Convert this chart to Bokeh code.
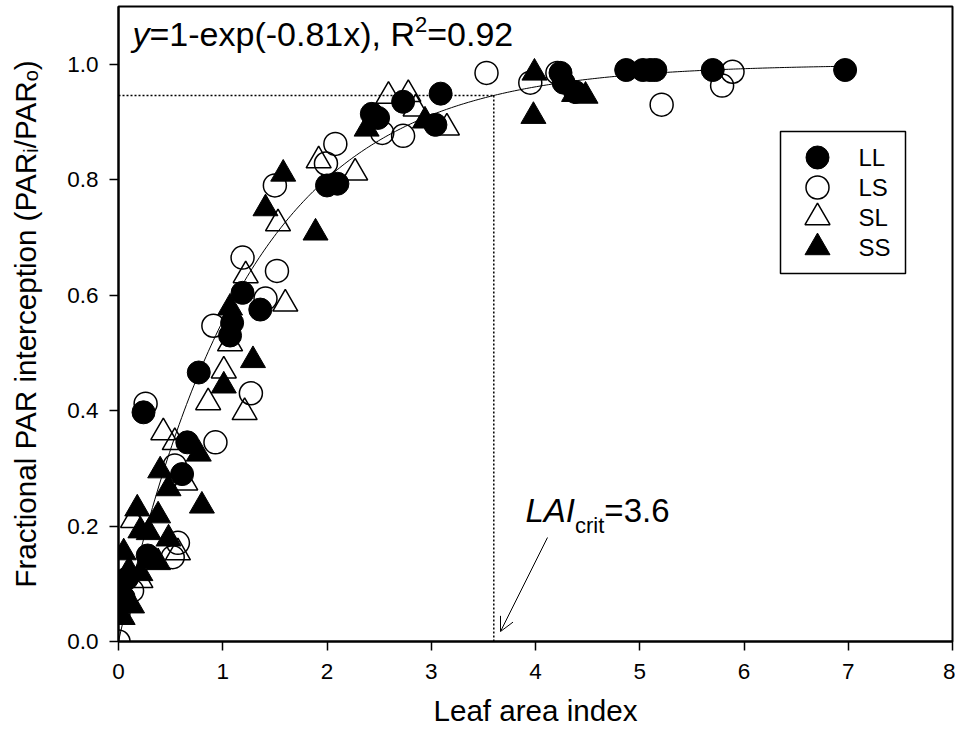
import math
import numpy as np
from bokeh.plotting import figure
from bokeh.models import Range1d, FixedTicker, Label, Arrow, OpenHead, NumeralTickFormatter
from bokeh.embed import file_html
from bokeh.resources import INLINE

# ---------------- data ----------------
LL_X = [6.97, 5.70, 4.87, 5.03, 5.10, 5.15, 4.24, 4.27, 4.38, 3.09, 2.73, 2.43, 2.49, 3.04,
        2.00, 2.10, 1.19, 1.36, 1.09, 1.07, 0.77, 0.24, 0.66, 0.61, 0.28, 0.08, 0.05]
LL_Y = [0.990, 0.990, 0.990, 0.990, 0.990, 0.990, 0.985, 0.968, 0.952, 0.949, 0.935, 0.914, 0.907, 0.895,
        0.790, 0.793, 0.604, 0.575, 0.552, 0.530, 0.466, 0.397, 0.345, 0.290, 0.149, 0.109, 0.076]

LS_X = [3.53, 3.95, 4.21, 5.89, 5.79, 5.21, 2.53, 2.73, 2.08, 1.99, 1.50, 1.19, 1.52, 1.41,
        0.91, 1.27, 0.26, 0.93, 0.54, 0.57, 0.52, 0.13, 0.00, 0.00]
LS_Y = [0.985, 0.968, 0.985, 0.987, 0.963, 0.930, 0.881, 0.876, 0.862, 0.828, 0.790, 0.665, 0.642, 0.594,
        0.547, 0.430, 0.412, 0.345, 0.305, 0.171, 0.146, 0.088, 0.050, 0.000]

SL_X = [2.59, 2.78, 2.85, 3.15, 1.92, 2.27, 1.53, 1.22, 1.60, 1.07, 1.01, 0.86, 1.21, 0.43,
        0.54, 0.64, 0.57, 0.14, 0.21]
SL_Y = [0.945, 0.948, 0.923, 0.890, 0.833, 0.812, 0.724, 0.634, 0.585, 0.516, 0.469, 0.414, 0.397, 0.362,
        0.345, 0.275, 0.154, 0.210, 0.106]

SS_X = [3.99, 3.98, 4.37, 4.48, 2.38, 2.94, 1.58, 1.41, 1.89, 1.07, 1.29, 1.01, 0.77, 0.40,
        0.48, 0.80, 0.18, 0.38, 0.21, 0.29, 0.48, 0.05, 0.38, 0.30, 0.10, 0.21, 0.13, 0.04]
SS_Y = [0.985, 0.910, 0.948, 0.945, 0.888, 0.902, 0.810, 0.750, 0.708, 0.578, 0.487, 0.443, 0.325, 0.296,
        0.265, 0.235, 0.230, 0.218, 0.192, 0.189, 0.178, 0.154, 0.137, 0.140, 0.123, 0.118, 0.062, 0.042]

SERIES_NAMES = ["LL", "LS", "SL", "SS"]
FIT_K = 0.81          # y = 1 - exp(-k x)
FIT_R2 = 0.92
FIT_X_MAX = 6.97
LAI_CRIT = 3.6

X_TICKS = [0, 1, 2, 3, 4, 5, 6, 7, 8]
X_TICK_LABELS = ["0", "1", "2", "3", "4", "5", "6", "7", "8"]
Y_TICKS = [0.0, 0.2, 0.4, 0.6, 0.8, 1.0]
Y_TICK_LABELS = ["0.0", "0.2", "0.4", "0.6", "0.8", "1.0"]
X_TITLE = "Leaf area index"
Y_TITLE = "Fractional PAR interception (PAR\u1d62/PAR\u2092)"

# ---------------- layout ----------------
FONT = "Liberation Sans"
WIDTH, HEIGHT = 955, 733
X0, X1 = 0, 8
Y0, Y1 = 0, 1.1
FL, FR, FT, FB = 118, 952, 6, 641   # frame edges in pixels
BASE_SHIFT = 0.36                    # empirical correction for alphabetic baselines


def px2x(px):
    return X0 + (px - FL) / (FR - FL) * (X1 - X0)


def px2y(py):
    return Y0 + (FB - py) / (FB - FT) * (Y1 - Y0)


# Arial / Liberation Sans advance widths (1/1000 em)
ADV = {' ': 278, '(': 333, ')': 333, '-': 333, '.': 278, '/': 278, ',': 278, '=': 584,
       'A': 667, 'F': 611, 'I': 278, 'L': 556, 'P': 667, 'R': 722, 'S': 667,
       'a': 556, 'c': 500, 'd': 556, 'e': 556, 'f': 278, 'i': 222, 'l': 222, 'n': 556,
       'o': 556, 'p': 556, 'r': 333, 't': 278, 'x': 500, 'y': 500}
for _d in "0123456789":
    ADV[_d] = 556


def tw(s, size):
    return sum(ADV.get(c, 556) for c in s) * size / 1000.0


p = figure(width=WIDTH, height=HEIGHT, x_range=Range1d(X0, X1), y_range=Range1d(Y0, Y1),
           output_backend="svg", toolbar_location=None,
           min_border_left=FL, min_border_right=WIDTH - FR,
           min_border_top=FT, min_border_bottom=HEIGHT - FB)
p.background_fill_color = "white"
p.border_fill_color = "white"
p.xgrid.visible = False
p.ygrid.visible = False
p.outline_line_color = "black"
p.outline_line_width = 2
p.outline_line_alpha = 1

p.xaxis.ticker = FixedTicker(ticks=X_TICKS)
p.yaxis.ticker = FixedTicker(ticks=Y_TICKS)
p.yaxis.formatter = NumeralTickFormatter(format="0.0")
p.xaxis.major_label_overrides = dict(zip(X_TICKS, X_TICK_LABELS))
p.yaxis.major_label_overrides = dict(zip(Y_TICKS, Y_TICK_LABELS))
for ax in (p.xaxis, p.yaxis):
    ax.axis_line_width = 2
    ax.axis_line_color = "black"
    ax.major_tick_line_width = 1.5
    ax.major_tick_line_color = "black"
    ax.major_tick_out = 9
    ax.major_tick_in = 0
    ax.minor_tick_out = 0
    ax.minor_tick_in = 0
    ax.major_label_text_font = FONT
    ax.major_label_text_font_size = "22.5px"
    ax.major_label_text_color = "black"
    ax.axis_label_text_font = FONT
    ax.axis_label_text_font_size = "29.6px"
    ax.axis_label_text_font_style = "normal"
    ax.axis_label_text_color = "black"
p.xaxis.major_label_standoff = 13
p.yaxis.major_label_standoff = 11
p.xaxis.axis_label = X_TITLE
p.yaxis.axis_label = Y_TITLE
p.xaxis.axis_label_standoff = 12
p.yaxis.axis_label_standoff = 22

# ---------------- fit curve and critical LAI guide lines ----------------
curve_x = np.linspace(0, FIT_X_MAX, 300)
curve_y = 1 - np.exp(-FIT_K * curve_x)
p.line(curve_x, curve_y, line_color="black", line_width=1)

y_crit = 1 - math.exp(-FIT_K * LAI_CRIT)
p.line([0, LAI_CRIT], [y_crit, y_crit], line_color="black", line_width=1.5, line_dash="2 2")
p.line([LAI_CRIT, LAI_CRIT], [0, y_crit], line_color="black", line_width=1.5, line_dash="2 2")

# ---------------- data markers ----------------
STYLES = {
    "LS": dict(marker="circle", size=23, fill_color=None, line_color="black", line_width=1.5),
    "SL": dict(marker="triangle", size=25, fill_color=None, line_color="black", line_width=1.5),
    "SS": dict(marker="triangle", size=25, fill_color="black", line_color="black", line_width=1),
    "LL": dict(marker="circle", size=23, fill_color="black", line_color="black", line_width=1),
}
p.scatter(LS_X, LS_Y, **STYLES["LS"])
p.scatter(SL_X, SL_Y, **STYLES["SL"])
p.scatter(SS_X, SS_Y, **STYLES["SS"])
p.scatter(LL_X, LL_Y, **STYLES["LL"])


def add_label(text, px, py, size, style="normal", align="left"):
    """Place text whose alphabetic baseline should sit at pixel row py."""
    p.add_layout(Label(x=px2x(px), y=px2y(py - BASE_SHIFT * size), text=text, text_font=FONT,
                       text_font_size=f"{size}px", text_font_style=style,
                       text_color="black", text_align=align,
                       text_baseline="alphabetic"))


# ---------------- legend (box, keys and labels) ----------------
LEG_L, LEG_R, LEG_T, LEG_B = 780, 905, 131, 273
LEG_KEY_X, LEG_TEXT_X, LEG_ROW0, LEG_PITCH = 817, 858, 157, 30
p.quad(left=[px2x(LEG_L)], right=[px2x(LEG_R)], top=[px2y(LEG_T)], bottom=[px2y(LEG_B)],
       fill_color="white", line_color="black", line_width=1.5)
for i, n in enumerate(SERIES_NAMES):
    cy = LEG_ROW0 + LEG_PITCH * i
    p.scatter([px2x(LEG_KEY_X)], [px2y(cy)], **STYLES[n])
    add_label(n, LEG_TEXT_X, cy + 8.5, 24)

# ---------------- text annotations ----------------
# equation (top-left)
TS, SUP = 34, 22
x = 132
base = 46
add_label("y", x, base, TS, "italic"); x += tw("y", TS)
s = "=1-exp(-" + f"{FIT_K:.2f}" + "x), R"
add_label(s, x, base, TS); x += tw(s, TS)
add_label("2", x, base - 14, SUP); x += tw("2", SUP)
add_label("=" + f"{FIT_R2:.2f}", x, base, TS)

# LAI_crit label
LS_, LSUB = 33, 22
x = 525
base = 522
add_label("LAI", x, base, LS_, "italic"); x += tw("LAI", LS_)
add_label("crit", x, base + 11, LSUB); x += tw("crit", LSUB)
add_label("=" + f"{LAI_CRIT:.1f}", x, base, LS_)

p.add_layout(Arrow(x_start=px2x(547), y_start=px2y(537), x_end=px2x(500), y_end=px2y(631),
                   line_color="black", line_width=1,
                   end=OpenHead(size=14, line_color="black", line_width=1)))

open("out.html", "w").write(file_html(p, INLINE))
